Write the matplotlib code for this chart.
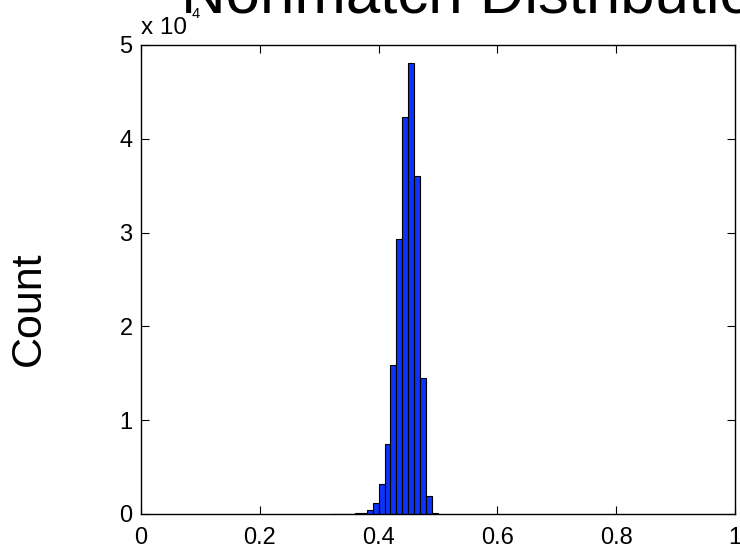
import matplotlib
matplotlib.use("Agg")
import matplotlib.pyplot as plt
import numpy as np

plt.rcParams['font.family'] = ['Liberation Sans', 'DejaVu Sans']

# Histogram data (bin left edges, width 0.01) -- counts
bin_left = [0.32, 0.33, 0.34, 0.35, 0.36, 0.37, 0.38, 0.39, 0.40, 0.41,
            0.42, 0.43, 0.44, 0.45, 0.46, 0.47, 0.48, 0.49]
counts = [10, 15, 25, 40, 70, 150, 400, 1150, 3250, 7500,
          15850, 29300, 42300, 48100, 36000, 14550, 1950, 60]
bin_width = 0.01

title = "Nonmatch Distribution"
ylabel = "Count"
xticks = [0, 0.2, 0.4, 0.6, 0.8, 1.0]
xticklabels = ["0", "0.2", "0.4", "0.6", "0.8", "1"]
yticks = [0, 1, 2, 3, 4, 5]
yticklabels = ["0", "1", "2", "3", "4", "5"]
scale = 1e4

W, H = 740, 550
fig = plt.figure(figsize=(W / 100, H / 100), dpi=100)
left, right, top, bottom = 141, 735, 45, 514
ax = fig.add_axes([left / W, 1 - bottom / H, (right - left) / W, (bottom - top) / H])

ax.bar(bin_left, np.array(counts) / scale, width=bin_width, align='edge',
       color='#0d33f7', edgecolor='black', linewidth=0.8)

ax.set_xlim(0, 1)
ax.set_ylim(0, 5)
ax.set_xticks(xticks)
ax.set_xticklabels(xticklabels)
ax.set_yticks(yticks)
ax.set_yticklabels(yticklabels)
ax.tick_params(direction='in', length=6, width=0.8, top=True, right=True,
               labelsize=17, colors='black')
ax.tick_params(axis='x', pad=9.5)
ax.tick_params(axis='y', pad=6)
for s in ax.spines.values():
    s.set_linewidth(1.0)

# exponent label "x 10^4"
fig.text(141 / W, 1 - 34 / H, "x 10", fontsize=17.5, ha='left', va='baseline')
fig.text(192 / W, 1 - 18 / H, "4", fontsize=10.5, ha='left', va='baseline')

# title (clipped at top/right of figure as in reference)
fig.text(181 / W, 1 - 12.5 / H, title, fontsize=44.5,
         ha='left', va='baseline')

# y label
fig.text(29 / W, 1 - 309 / H, ylabel, fontsize=31, rotation=90,
         ha='center', va='center')

fig.savefig("out.png", dpi=100)
